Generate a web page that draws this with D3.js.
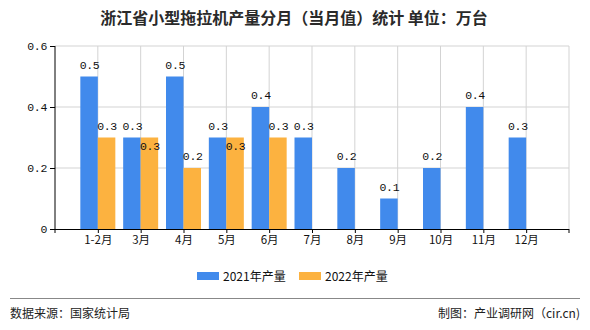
<!DOCTYPE html>
<html><head><meta charset="utf-8">
<script src="https://cdn.jsdelivr.net/npm/d3@7/dist/d3.min.js"></script>
<style>
body{margin:0;background:#fff;}
svg{display:block;}
</style></head>
<body><div id="chart"></div>
<script>
const titleText = "浙江省小型拖拉机产量分月（当月值）统计  单位：万台";
const categories = ["1-2月","3月","4月","5月","6月","7月","8月","9月","10月","11月","12月"];
const series2021 = [0.5,0.3,0.5,0.3,0.4,0.3,0.2,0.1,0.2,0.4,0.3];
const series2022 = [0.3,0.3,0.2,0.3,0.3,null,null,null,null,null,null];
const seriesNames = ["2021年产量","2022年产量"];
const seriesColors = ["#418AEC","#FCB240"];
const yTicks = [0,0.2,0.4,0.6];
const sourceText = "数据来源：国家统计局";
const creditText = "制图：产业调研网（cir.cn)";

const W=590,H=330;
const m={l:55,r:569,t:46,b:229};
const svg=d3.select("#chart").append("svg").attr("width",W).attr("height",H);
const cjk="'Noto Sans CJK SC','Noto Sans',sans-serif";
const mono="'Liberation Mono','DejaVu Sans Mono',monospace";

const x=d3.scalePoint().domain(categories).range([m.l,m.r]).padding(1);
const y=d3.scaleLinear().domain([0,0.6]).range([m.b,m.t]);
const bw=17.5;
const fmt=d=>d===0?"0":d3.format(".1f")(d);

// title
svg.append("text").attr("x",294).attr("y",24).attr("text-anchor","middle")
  .style("font-family",cjk).style("font-size","16px").style("font-weight","bold").attr("fill","#2a2a2a").text(titleText);

// grid
const g=svg.append("g");
g.selectAll(".hg").data(yTicks.filter(d=>d>0)).join("line")
  .attr("x1",m.l).attr("x2",m.r).attr("y1",d=>y(d)).attr("y2",d=>y(d)).attr("stroke","#d3d3d3");
const vpos=[...categories.map(c=>x(c)),m.r];
g.selectAll(".vg").data(vpos).join("line")
  .attr("x1",d=>d).attr("x2",d=>d).attr("y1",m.t).attr("y2",m.b).attr("stroke","#d3d3d3");

// bars
[0,1].forEach(s=>{
  const sv = s===0?series2021:series2022;
  svg.append("g").selectAll("rect").data(categories.map((c,i)=>({c,v:sv[i]})).filter(d=>d.v!=null)).join("rect")
    .attr("x",d=>x(d.c)+(s===0?-bw:0)).attr("width",bw)
    .attr("y",d=>y(d.v)).attr("height",d=>m.b-y(d.v)).attr("fill",seriesColors[s]);
});

// labels
const lab=svg.append("g").style("font-family",mono).style("font-size","11.5px").style("letter-spacing","-0.3px").attr("fill","#111").attr("text-anchor","middle");
categories.forEach((c,i)=>{
  const a=series2021[i], b=series2022[i];
  if(a!=null) lab.append("text").attr("x",x(c)-bw/2+0.5).attr("y",y(a)-8).text(fmt(a));
  if(b!=null){
    const shift=(a===b)?20:0;
    lab.append("text").attr("x",x(c)+bw/2+0.5).attr("y",y(b)-8+shift).text(fmt(b));
  }
});

// y axis
const ya=svg.append("g").attr("transform",`translate(${m.l},0)`)
  .call(d3.axisLeft(y).tickValues(yTicks).tickSize(5).tickPadding(3).tickFormat(fmt));
ya.select(".domain").attr("stroke","#000").attr("d",`M0,${m.t}V${m.b+4}`);
ya.selectAll(".tick line").attr("stroke","#000");
ya.selectAll("text").style("font-family",mono).style("font-size","11.5px").style("letter-spacing","-0.3px").attr("fill","#111");

// x axis
const xa=svg.append("g").attr("transform",`translate(0,${m.b})`)
  .call(d3.axisBottom(x).tickSize(4).tickPadding(3));
xa.select(".domain").attr("stroke","#000").attr("stroke-width",1.2).attr("d",`M${m.l},0.5H${m.r}`);
xa.selectAll(".tick line").attr("stroke","#000");
xa.append("line").attr("x1",m.r).attr("x2",m.r).attr("y1",0).attr("y2",4).attr("stroke","#000");
xa.selectAll("text").style("font-family",cjk).style("font-size","11.5px").attr("fill","#111");

// legend
const lg=svg.append("g");
const lx=[197,299];
seriesNames.forEach((n,i)=>{
  lg.append("rect").attr("x",lx[i]).attr("y",272).attr("width",22).attr("height",8).attr("fill",seriesColors[i]);
  lg.append("text").attr("x",lx[i]+26).attr("y",280.5).style("font-family",cjk).style("font-size","12px").attr("fill","#111").text(n);
});

// footer
svg.append("line").attr("x1",10).attr("x2",580).attr("y1",298.5).attr("y2",298.5).attr("stroke","#888");
svg.append("text").attr("x",10).attr("y",318).style("font-family",cjk).style("font-size","12px").attr("fill","#222").text(sourceText);
svg.append("text").attr("x",580).attr("y",318).attr("text-anchor","end").style("font-family",cjk).style("font-size","12px").attr("fill","#222").text(creditText);
</script></body></html>
